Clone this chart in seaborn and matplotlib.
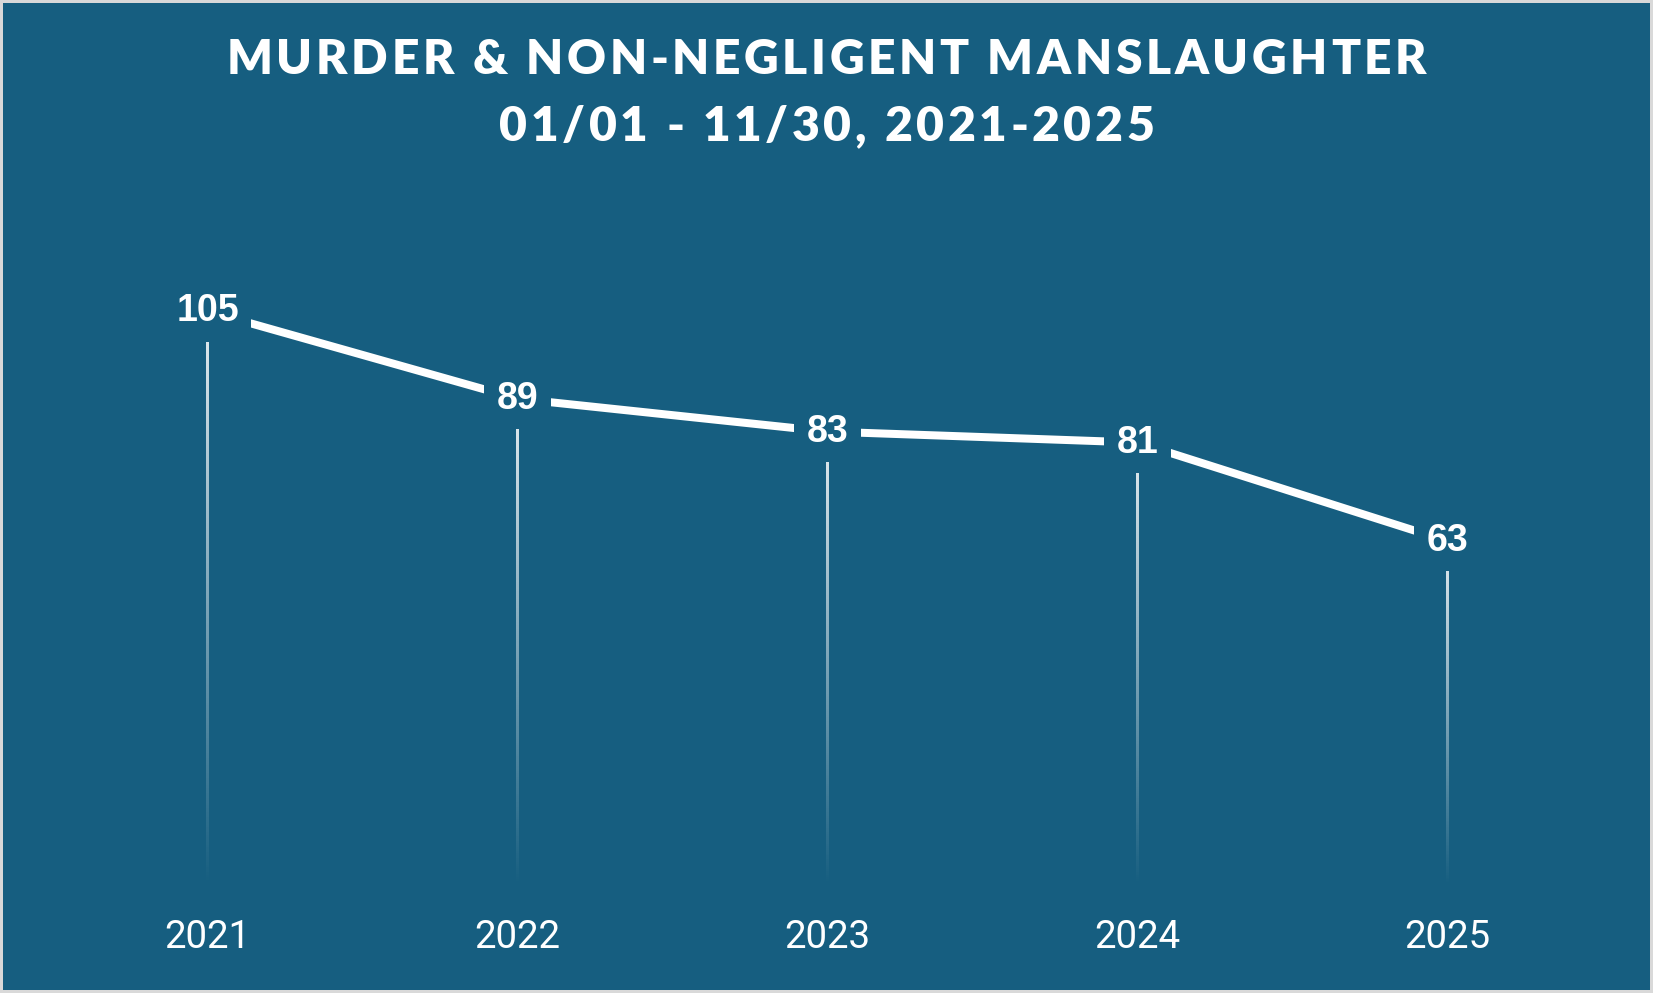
import matplotlib
matplotlib.use("Agg")
import matplotlib.pyplot as plt
import seaborn as sns
import numpy as np
from matplotlib import font_manager as fm
from matplotlib.ft2font import FT2Font

# data
years = [2021, 2022, 2023, 2024, 2025]
counts = [105, 89, 83, 81, 63]
title_lines = ["MURDER & NON-NEGLIGENT MANSLAUGHTER", "01/01 - 11/30, 2021-2025"]

BG = "#165E80"
BORDER = "#D9D9D9"
W, H, DPI = 1653, 993, 100


def px(p):
    # pixels -> points
    return p * 72 / DPI


def tracked_text(fig, text, xc, baseline, size_px, track, family, weight):
    # matplotlib has no letter-spacing, so lay the glyphs out one by one
    fp = fm.FontProperties(family=family, weight=weight)
    font = FT2Font(fm.findfont(fp))
    font.set_size(px(size_px), DPI)
    advs = [font.load_char(ord(c)).linearHoriAdvance / 65536 for c in text]
    total = sum(advs) + track * (len(text) - 1)
    x = xc - total / 2
    for c, a in zip(text, advs):
        fig.text(x / W, 1 - baseline / H, c, ha="left", va="baseline",
                 fontproperties=fp, fontsize=px(size_px), color="white")
        x += a + track


sns.set_theme(style="white")
plt.rcParams["font.family"] = ["Roboto", "DejaVu Sans"]

fig = plt.figure(figsize=(W / DPI, H / DPI), dpi=DPI, facecolor=BG)
fig.patch.set_edgecolor(BORDER)
fig.patch.set_linewidth(px(6))

# axes placed so that 2021 sits at x=207px, 0 at y=886px
ax = fig.add_axes([52.5 / W, 107 / H, 1550 / W, 657 / H])
ax.set_facecolor("none")

sns.lineplot(x=years, y=counts, color="white", linewidth=px(8), ax=ax,
             zorder=2, solid_capstyle="butt")

# fading drop lines, drawn as thin gradient images
grad = np.ones((256, 1, 4))
grad[:, 0, 3] = np.linspace(0.9, 0.0, 256)
half_w = 1.4 / 310  # ~1.4px in year units
for yr, v in zip(years, counts):
    ax.imshow(grad, extent=[yr - half_w, yr + half_w, 0, v], origin="upper",
              aspect="auto", interpolation="bilinear", zorder=1)

ax.set_xlim(2020.5, 2025.5)
ax.set_ylim(0, 120)

# value labels with background box that masks the line
for yr, v in zip(years, counts):
    ax.text(yr, v, f"{v}", ha="center", va="center", color="white",
            family="Liberation Sans", weight="bold", fontsize=px(37.5), zorder=3,
            bbox=dict(boxstyle="square,pad=0.33", fc=BG, ec="none"))

ax.set_xticks(years)
ax.set_xticklabels([str(y) for y in years])
ax.set_yticks([])
ax.tick_params(axis="x", length=0, pad=px(33), labelsize=px(38.5), labelcolor="white")
sns.despine(ax=ax, left=True, bottom=True)

# title
tracked_text(fig, title_lines[0], W / 2, 74, 48, 3.6, "Lato", "heavy")
tracked_text(fig, title_lines[1], W / 2, 141, 48, 3.6, "Lato", "heavy")

fig.savefig("out.png", dpi=DPI, facecolor=fig.get_facecolor(), edgecolor=BORDER)
